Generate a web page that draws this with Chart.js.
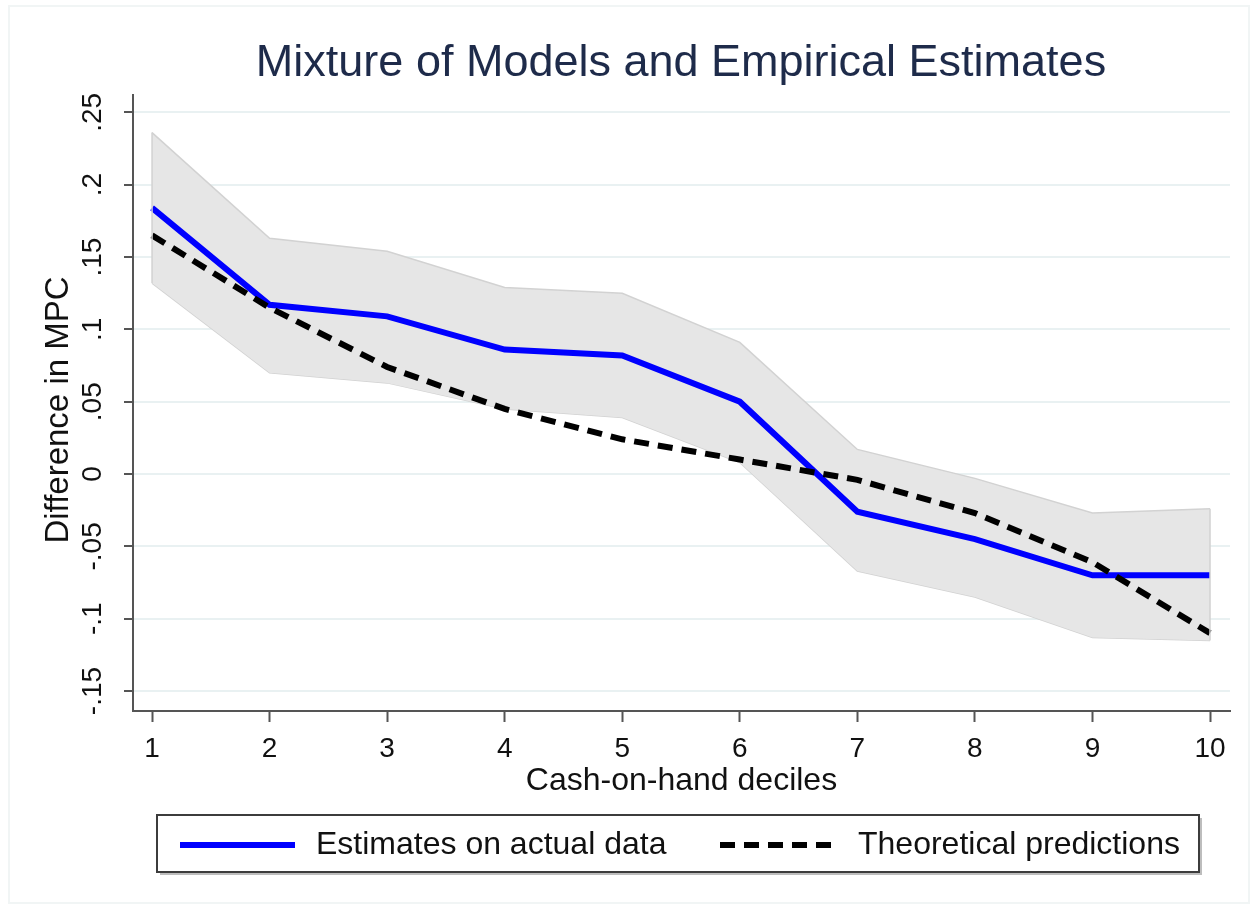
<!DOCTYPE html>
<html>
<head>
<meta charset="utf-8">
<script src="https://cdn.jsdelivr.net/npm/chart.js@4"></script>
<style>
    body { margin: 0; background: #fff; }
    canvas { display: block; }
</style>
</head>
<body>
<canvas id="mpcChart" width="1258" height="907"></canvas>
<script>
// Data
const deciles = [1, 2, 3, 4, 5, 6, 7, 8, 9, 10];
const estimates = [0.184, 0.117, 0.109, 0.086, 0.082, 0.050, -0.026, -0.045, -0.070, -0.070];
const theory = [0.165, 0.115, 0.074, 0.045, 0.024, 0.010, -0.004, -0.027, -0.061, -0.110];
const ciUpper = [0.236, 0.163, 0.154, 0.129, 0.125, 0.091, 0.017, -0.003, -0.027, -0.024];
const ciLower = [0.132, 0.070, 0.063, 0.045, 0.039, 0.008, -0.067, -0.085, -0.113, -0.115];
const yTicks = [-0.15, -0.1, -0.05, 0, 0.05, 0.1, 0.15, 0.2, 0.25];
const yTickLabels = ['-.15', '-.1', '-.05', '0', '.05', '.1', '.15', '.2', '.25'];

const FONT = '"Liberation Sans", Arial, sans-serif';

function toPoints(values) {
    return deciles.map((d, i) => ({ x: d, y: values[i] }));
}

// Draws the Stata-like text, rotated y labels, band edges and legend box
const stataDecor = {
    id: 'stataDecor',
    beforeDraw(chart) {
        const ctx = chart.ctx;
        ctx.save();
        ctx.fillStyle = '#ffffff';
        ctx.fillRect(0, 0, chart.width, chart.height);
        ctx.strokeStyle = '#f1f5f5';
        ctx.lineWidth = 2;
        ctx.strokeRect(9, 6, chart.width - 18, chart.height - 10);
        ctx.restore();
    },
    afterDatasetsDraw(chart) {
        // vertical ends of the confidence band
        const ctx = chart.ctx;
        const xs = chart.scales.x, ys = chart.scales.y;
        ctx.save();
        ctx.strokeStyle = '#d2d2d2';
        ctx.lineWidth = 1.5;
        [0, deciles.length - 1].forEach(i => {
            let px = xs.getPixelForValue(deciles[i]);
            ctx.beginPath();
            ctx.moveTo(px, ys.getPixelForValue(ciUpper[i]));
            ctx.lineTo(px, ys.getPixelForValue(ciLower[i]));
            ctx.stroke();
        });
        ctx.restore();
    },
    afterDraw(chart) {
        const ctx = chart.ctx;
        const ys = chart.scales.y;
        ctx.save();

        // title
        ctx.fillStyle = '#1e2b4a';
        ctx.font = '45px ' + FONT;
        ctx.textAlign = 'center';
        ctx.textBaseline = 'middle';
        ctx.fillText('Mixture of Models and Empirical Estimates', 681, 64);

        // rotated y tick labels
        ctx.fillStyle = '#111';
        ctx.font = '28px ' + FONT;
        yTicks.forEach((v, i) => {
            ctx.save();
            ctx.translate(93, ys.getPixelForValue(v));
            ctx.rotate(-Math.PI / 2);
            ctx.fillText(yTickLabels[i], 0, 0);
            ctx.restore();
        });

        // y axis title
        ctx.font = '33px ' + FONT;
        ctx.save();
        ctx.translate(59, 410);
        ctx.rotate(-Math.PI / 2);
        ctx.fillText('Difference in MPC', 0, 0);
        ctx.restore();

        // legend box
        ctx.fillStyle = '#bdbdbd';
        ctx.fillRect(160, 818, 1042, 57);
        ctx.fillStyle = '#ffffff';
        ctx.fillRect(157, 815, 1042, 57);
        ctx.strokeStyle = '#3c3c3c';
        ctx.lineWidth = 2;
        ctx.strokeRect(157, 815, 1042, 57);

        const legendY = 845;
        ctx.lineWidth = 6;
        ctx.strokeStyle = '#0000ff';
        ctx.beginPath();
        ctx.moveTo(180, legendY);
        ctx.lineTo(295, legendY);
        ctx.stroke();

        ctx.strokeStyle = '#000';
        ctx.setLineDash([15, 9]);
        ctx.beginPath();
        ctx.moveTo(720, legendY);
        ctx.lineTo(838, legendY);
        ctx.stroke();
        ctx.setLineDash([]);

        ctx.fillStyle = '#111';
        ctx.font = '32px ' + FONT;
        ctx.textAlign = 'left';
        ctx.fillText(chart.data.datasets[1].label, 316, legendY);
        ctx.fillText(chart.data.datasets[0].label, 858, legendY);
        ctx.restore();
    }
};

const ctx = document.getElementById('mpcChart').getContext('2d');
const mpcChart = new Chart(ctx, {
    type: 'line',
    data: {
        datasets: [
            {
                label: 'Theoretical predictions',
                data: toPoints(theory),
                borderColor: '#000000',
                borderWidth: 6,
                borderDash: [15, 9],
                pointRadius: 0,
                fill: false,
                order: 0
            },
            {
                label: 'Estimates on actual data',
                data: toPoints(estimates),
                borderColor: '#0000ff',
                borderWidth: 6,
                pointRadius: 0,
                fill: false,
                order: 1
            },
            {
                label: 'CI upper',
                data: toPoints(ciUpper),
                borderColor: '#d2d2d2',
                borderWidth: 1.5,
                backgroundColor: '#e6e6e6',
                pointRadius: 0,
                fill: '+1',
                order: 2
            },
            {
                label: 'CI lower',
                data: toPoints(ciLower),
                borderColor: '#d2d2d2',
                borderWidth: 1.5,
                pointRadius: 0,
                fill: false,
                order: 3
            }
        ]
    },
    options: {
        responsive: false,
        animation: false,
        layout: {
            padding: { top: 95, right: 28, left: 0, bottom: 107 }
        },
        plugins: {
            legend: { display: false },
            tooltip: { enabled: false }
        },
        scales: {
            x: {
                type: 'linear',
                min: 0.838,
                max: 10.17,
                afterBuildTicks: scale => {
                    scale.ticks = deciles.map(d => ({ value: d }));
                },
                afterFit: scale => { scale.height = 89; },
                grid: {
                    drawOnChartArea: false,
                    drawTicks: true,
                    tickLength: 11,
                    tickColor: '#555',
                    tickWidth: 2
                },
                border: { color: '#555', width: 2 },
                ticks: {
                    color: '#111',
                    font: { family: FONT, size: 28 },
                    padding: 10,
                    maxRotation: 0
                },
                title: {
                    display: true,
                    text: 'Cash-on-hand deciles',
                    color: '#111',
                    font: { family: FONT, size: 32 },
                    padding: { top: 0, bottom: 0 }
                }
            },
            y: {
                min: -0.1638,
                max: 0.262,
                afterBuildTicks: scale => {
                    scale.ticks = yTicks.map(v => ({ value: v }));
                },
                afterFit: scale => { scale.width = 133; },
                grid: {
                    color: '#e9f1f2',
                    lineWidth: 2,
                    drawTicks: true,
                    tickLength: 9,
                    tickColor: '#555',
                    tickWidth: 2
                },
                border: { color: '#555', width: 2 },
                ticks: { display: false }
            }
        }
    },
    plugins: [stataDecor]
});
</script>
</body>
</html>
